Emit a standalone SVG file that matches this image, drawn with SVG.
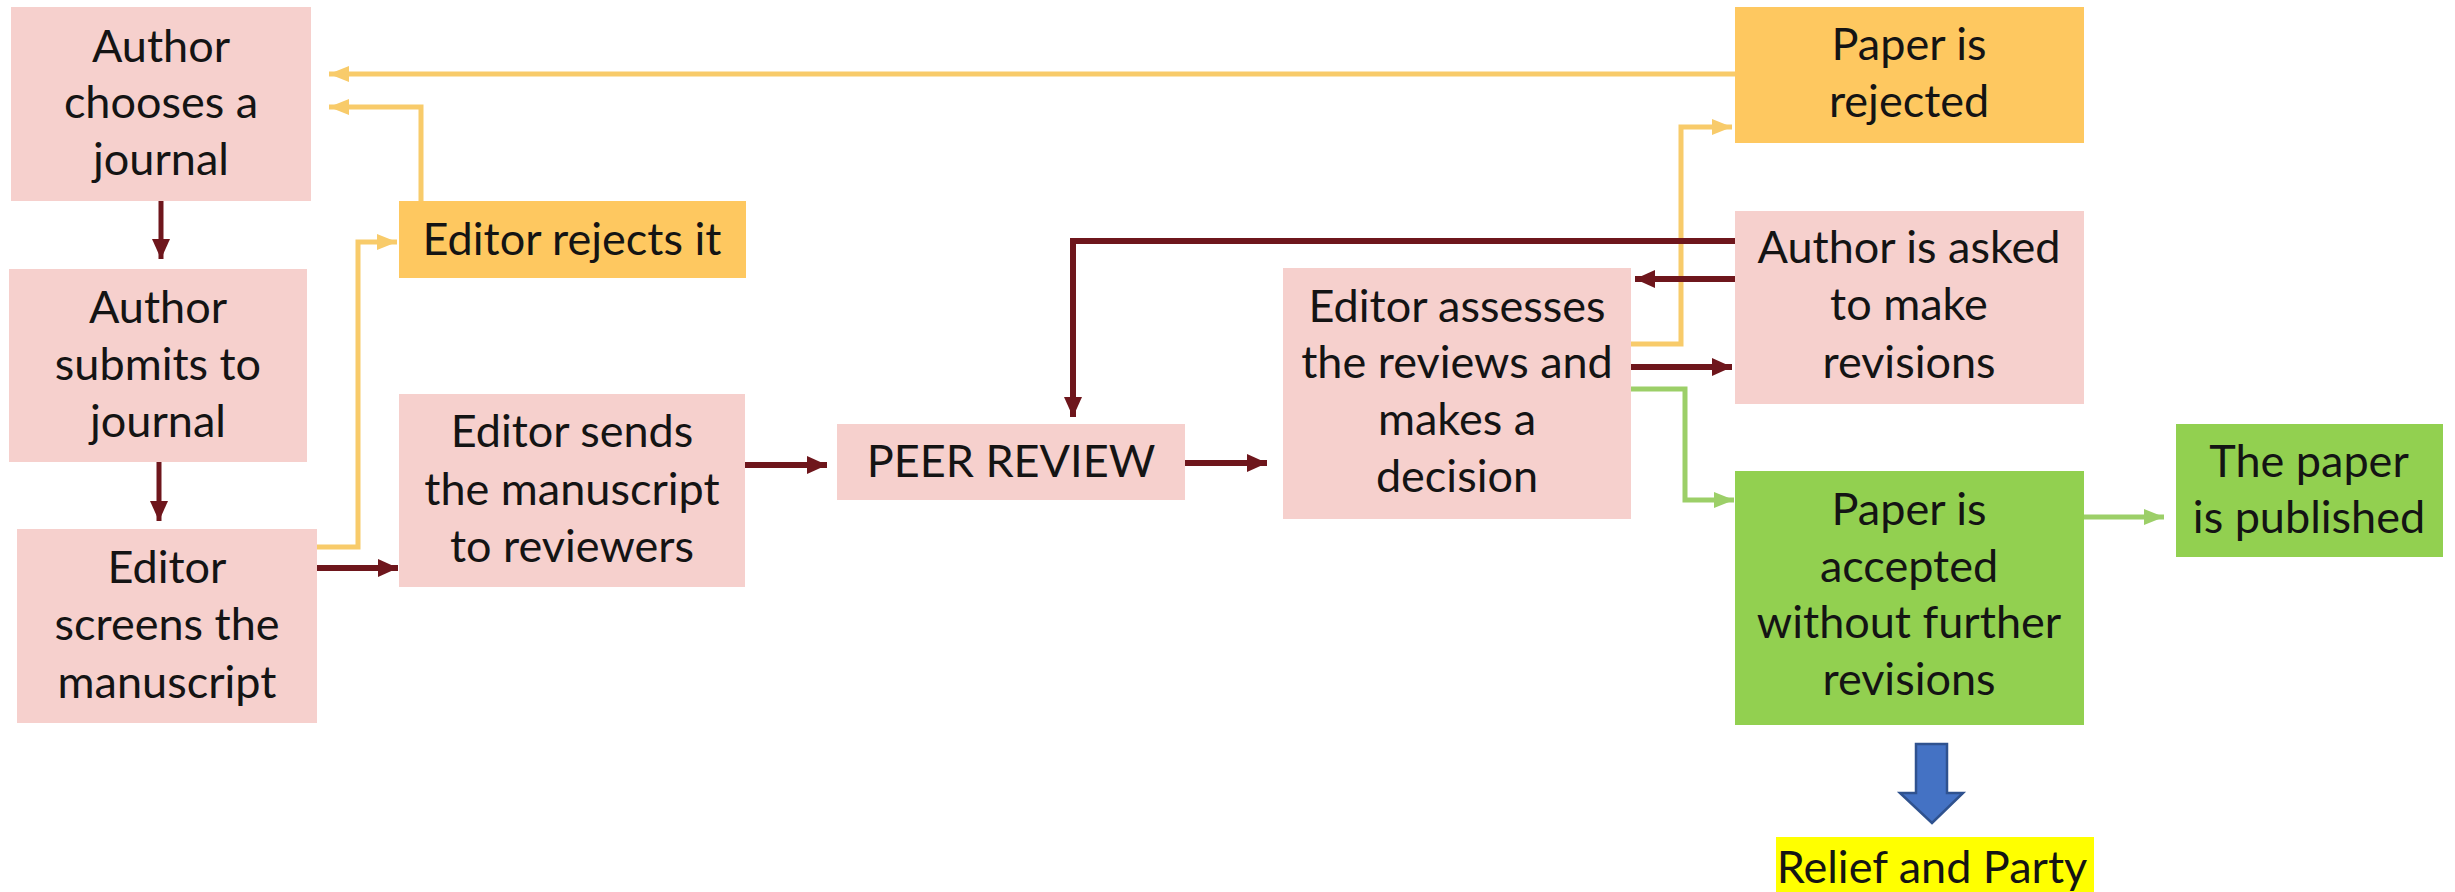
<svg xmlns="http://www.w3.org/2000/svg" width="2455" height="892" viewBox="0 0 2455 892">
  <style>
    .pink { fill: #F6D0CD; }
    .gold { fill: #FEC860; }
    .green { fill: #92D050; }
    text { font-family: Lato, "Liberation Sans", sans-serif; font-size: 45px; fill: #141414; text-anchor: middle; }
    .red { fill: none; stroke: #6E161C; stroke-width: 6; marker-end: url(#ah-red); }
    .redthin { fill: none; stroke: #6E161C; stroke-width: 5; marker-end: url(#ah-red); }
    .yel { fill: none; stroke: #F8CB6A; stroke-width: 5; marker-end: url(#ah-yel); }
    .grn { fill: none; stroke: #9CCF68; stroke-width: 5; marker-end: url(#ah-grn); }
  </style>
  <defs>
    <marker id="ah-red" markerUnits="userSpaceOnUse" markerWidth="20" markerHeight="20" viewBox="0 0 20 20" refX="20" refY="10" orient="auto">
      <path d="M0,1 L20,10 L0,19 Z" fill="#6E161C"/>
    </marker>
    <marker id="ah-yel" markerUnits="userSpaceOnUse" markerWidth="20" markerHeight="18" viewBox="0 0 20 18" refX="20" refY="9" orient="auto">
      <path d="M0,1 L20,9 L0,17 Z" fill="#F8CB6A"/>
    </marker>
    <marker id="ah-grn" markerUnits="userSpaceOnUse" markerWidth="20" markerHeight="18" viewBox="0 0 20 18" refX="20" refY="9" orient="auto">
      <path d="M0,1 L20,9 L0,17 Z" fill="#9CCF68"/>
    </marker>
  </defs>

  <rect width="2455" height="892" fill="#FFFFFF"/>

  <!-- connectors -->
  <g id="connectors">
    <!-- rejection paths back to choosing a journal -->
    <path class="yel" d="M1735,74 H329"/>
    <path class="yel" d="M421,201 V107 H329"/>
    <path class="yel" d="M317,547 H358 V242 H397"/>
    <path class="yel" d="M1631,344 H1681 V127 H1732"/>
    <!-- main submission flow -->
    <path class="redthin" d="M161,201 V259"/>
    <path class="redthin" d="M159,462 V521"/>
    <path class="red" d="M317,568 H398"/>
    <path class="red" d="M745,465 H827"/>
    <path class="red" d="M1185,463 H1267"/>
    <!-- revision loop -->
    <path class="red" d="M1735,241 H1073 V417"/>
    <path class="red" d="M1735,279 H1635"/>
    <path class="red" d="M1631,367 H1732"/>
    <!-- acceptance -->
    <path class="grn" d="M1631,389 H1685 V500 H1734"/>
    <path class="grn" d="M2084,517 H2164"/>
  </g>

  <g id="author-chooses">
    <rect class="pink" x="11" y="7" width="300" height="194"/>
    <text x="161" y="62">Author</text>
    <text x="161" y="118">chooses a</text>
    <text x="161" y="175">journal</text>
  </g>

  <g id="author-submits">
    <rect class="pink" x="9" y="269" width="298" height="193"/>
    <text x="158" y="323">Author</text>
    <text x="158" y="380">submits to</text>
    <text x="158" y="437">journal</text>
  </g>

  <g id="editor-screens">
    <rect class="pink" x="17" y="529" width="300" height="194"/>
    <text x="167" y="583">Editor</text>
    <text x="167" y="640">screens the</text>
    <text x="167" y="698">manuscript</text>
  </g>

  <g id="editor-rejects">
    <rect class="gold" x="399" y="201" width="347" height="77"/>
    <text x="572" y="255">Editor rejects it</text>
  </g>

  <g id="editor-sends">
    <rect class="pink" x="399" y="394" width="346" height="193"/>
    <text x="572" y="447">Editor sends</text>
    <text x="572" y="505">the manuscript</text>
    <text x="572" y="562">to reviewers</text>
  </g>

  <g id="peer-review">
    <rect class="pink" x="837" y="424" width="348" height="76"/>
    <text x="1011" y="477">PEER REVIEW</text>
  </g>

  <g id="editor-assesses">
    <rect class="pink" x="1283" y="268" width="348" height="251"/>
    <text x="1457" y="322">Editor assesses</text>
    <text x="1457" y="378">the reviews and</text>
    <text x="1457" y="435">makes a</text>
    <text x="1457" y="492">decision</text>
  </g>

  <g id="paper-rejected">
    <rect class="gold" x="1735" y="7" width="349" height="136"/>
    <text x="1909" y="60">Paper is</text>
    <text x="1909" y="117">rejected</text>
  </g>

  <g id="author-revisions">
    <rect class="pink" x="1735" y="211" width="349" height="193"/>
    <text x="1909" y="263">Author is asked</text>
    <text x="1909" y="320">to make</text>
    <text x="1909" y="378">revisions</text>
  </g>

  <g id="paper-accepted">
    <rect class="green" x="1735" y="471" width="349" height="254"/>
    <text x="1909" y="525">Paper is</text>
    <text x="1909" y="582">accepted</text>
    <text x="1909" y="638">without further</text>
    <text x="1909" y="695">revisions</text>
  </g>

  <g id="paper-published">
    <rect class="green" x="2176" y="424" width="267" height="133"/>
    <text x="2309" y="477">The paper</text>
    <text x="2309" y="533">is published</text>
  </g>

  <g id="celebration">
    <polygon points="1916,744 1947,744 1947,793 1963,793 1932,823 1900,793 1916,793" fill="#4472C4" stroke="#2F528F" stroke-width="2.5" stroke-linejoin="miter"/>
    <rect x="1776" y="837" width="318" height="60" fill="#FFFF00"/>
    <text x="1932" y="883" font-size="44">Relief and Party</text>
  </g>
</svg>
